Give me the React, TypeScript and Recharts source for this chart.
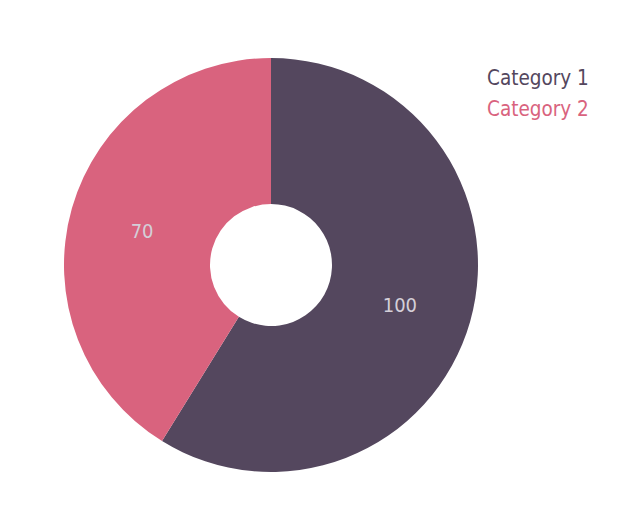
import React from "react";
import { PieChart, Pie, Cell, Legend } from "recharts";

const categories = ["Category 1", "Category 2"];
const values = [100, 70];
const colors = ["#54475e", "#d9637e"];

const data = categories.map((name, i) => ({ name, value: values[i] }));

const RADIAN = Math.PI / 180;

const renderLabel = (props: any) => {
  const { cx, cy, midAngle, innerRadius, outerRadius, value } = props;
  const r = (innerRadius + outerRadius) / 2;
  const x = cx + r * Math.cos(-midAngle * RADIAN);
  const y = cy + r * Math.sin(-midAngle * RADIAN);
  return (
    <text
      x={x}
      y={y + 3}
      fill="#d4cfd8"
      textAnchor="middle"
      dominantBaseline="central"
      fontSize={20}
      fontFamily="'DejaVu Sans Condensed', 'DejaVu Sans', sans-serif"
    >
      {value}
    </text>
  );
};

const renderLegend = () => (
  <div style={{ fontFamily: "'DejaVu Sans Condensed', 'DejaVu Sans', sans-serif", fontSize: 20.5, lineHeight: "31px" }}>
    {categories.map((c, i) => (
      <div key={c} style={{ color: colors[i] }}>{c}</div>
    ))}
  </div>
);

export default function App() {
  return (
    <PieChart width={624} height={514}>
      <Pie
        data={data}
        dataKey="value"
        nameKey="name"
        cx={258}
        cy={252}
        innerRadius={61}
        outerRadius={207}
        startAngle={90}
        endAngle={-270}
        stroke="none"
        label={renderLabel}
        labelLine={false}
        isAnimationActive={false}
      >
        {data.map((d, i) => (
          <Cell key={d.name} fill={colors[i]} />
        ))}
      </Pie>
      <Legend
        layout="vertical"
        verticalAlign="top"
        align="right"
        content={renderLegend}
        wrapperStyle={{ top: 55, left: 479, right: "auto", width: 140 }}
      />
    </PieChart>
  );
}
